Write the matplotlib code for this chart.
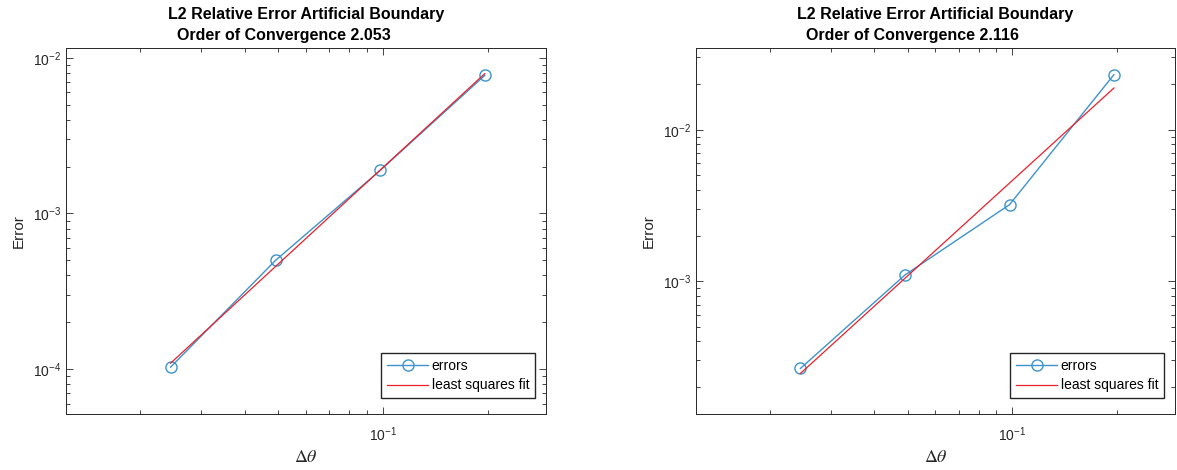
import numpy as np
import matplotlib.pyplot as plt
from matplotlib.ticker import LogLocator, NullFormatter

# grid spacing used in both runs
dtheta = [0.0245, 0.0491, 0.0982, 0.1963]

# L2 relative errors
err_left = [1.03e-4, 5.0e-4, 1.89e-3, 7.7e-3]
err_right = [2.65e-4, 1.1e-3, 3.2e-3, 0.0231]

orders = ["2.053", "2.116"]

plt.rcParams["font.family"] = ["Liberation Sans", "DejaVu Sans"]
ink = "#262626"

fig = plt.figure(figsize=(11.77, 4.70), dpi=100)
W, H = 1177, 470
boxes = [(66, 546), (696, 1175)]
top, bottom = 48, 414

for (x0, x1), err, order in zip(boxes, [err_left, err_right], orders):
    ax = fig.add_axes([x0 / W, (H - bottom) / H, (x1 - x0) / W, (bottom - top) / H])
    x = np.array(dtheta)
    y = np.array(err)

    # least squares fit in log-log
    p = np.polyfit(np.log10(x), np.log10(y), 1)
    yfit = 10 ** np.polyval(p, np.log10(x))

    ax.loglog(x, y, "o-", color="#3d93cc", lw=1.0, ms=8, mfc="none",
              mew=1.0, label="errors")
    ax.loglog(x, yfit, "-", color="#e8202a", lw=0.9, label="least squares fit")

    ax.set_xlim(x.min() / 2, x.max() * 1.5)
    ax.set_ylim(y.min() / 2, y.max() * 1.5)

    ax.xaxis.set_minor_locator(LogLocator(base=10, subs=np.arange(2, 10)))
    ax.yaxis.set_minor_locator(LogLocator(base=10, subs=np.arange(2, 10)))
    ax.xaxis.set_minor_formatter(NullFormatter())
    ax.yaxis.set_minor_formatter(NullFormatter())
    ax.tick_params(which="both", direction="in", top=True, right=True,
                   colors=ink, labelsize=10, width=0.6)
    ax.tick_params(which="major", length=5)
    ax.tick_params(which="minor", length=3)
    ax.tick_params(axis="x", which="major", pad=8)
    for s in ax.spines.values():
        s.set_color(ink)
        s.set_linewidth(0.7)

    ax.set_title("L2 Relative Error Artificial Boundary\n  Order of Convergence " + order,
                 fontsize=11.5, fontweight="bold", ma="left", pad=6,
                 linespacing=1.45, color="black")
    ax.set_ylabel("Error", fontsize=11, color=ink, labelpad=5)
    ax.set_xlabel(r"$\Delta\theta$", fontsize=13, math_fontfamily="stix",
                  color=ink, labelpad=4)

    w = x1 - x0
    h = bottom - top
    ax.legend(loc="lower right", bbox_to_anchor=(1 - 11 / w, 16 / h),
              borderaxespad=0, fontsize=10, fancybox=False, edgecolor=ink,
              framealpha=1, handlelength=3.0, handletextpad=0.25,
              borderpad=0.4, labelspacing=0.4)

fig.savefig("out.png", dpi=100)
